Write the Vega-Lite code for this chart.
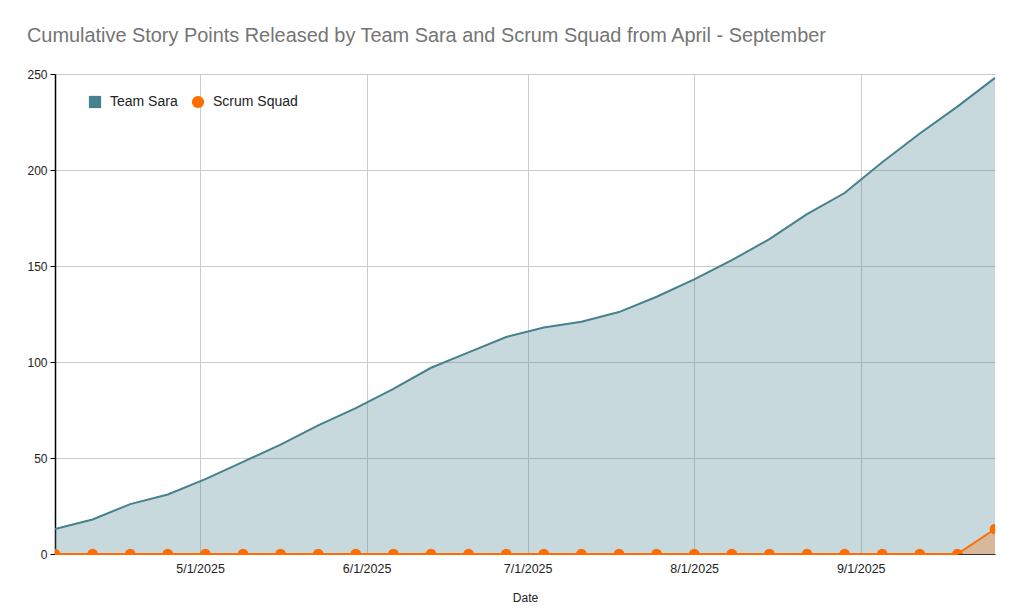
{
  "$schema": "https://vega.github.io/schema/vega-lite/v6.json",
  "width": 940,
  "height": 480,
  "autosize": {"type": "none"},
  "padding": {"left": 55, "top": 74, "right": 29, "bottom": 61},
  "background": "white",
  "title": {
    "text": "Cumulative Story Points Released by Team Sara and Scrum Squad from April - September",
    "anchor": "start",
    "offset": 6,
    "baseline": "alphabetic",
    "font": "Liberation Sans",
    "fontSize": 19.9,
    "fontWeight": "normal",
    "color": "#757575"
  },
  "data": {
    "values": [
      {"date": "2025/04/04", "team": "Team Sara", "points": 13},
      {"date": "2025/04/11", "team": "Team Sara", "points": 18},
      {"date": "2025/04/18", "team": "Team Sara", "points": 26},
      {"date": "2025/04/25", "team": "Team Sara", "points": 31},
      {"date": "2025/05/02", "team": "Team Sara", "points": 39},
      {"date": "2025/05/09", "team": "Team Sara", "points": 48},
      {"date": "2025/05/16", "team": "Team Sara", "points": 57},
      {"date": "2025/05/23", "team": "Team Sara", "points": 67},
      {"date": "2025/05/30", "team": "Team Sara", "points": 76},
      {"date": "2025/06/06", "team": "Team Sara", "points": 86},
      {"date": "2025/06/13", "team": "Team Sara", "points": 97},
      {"date": "2025/06/20", "team": "Team Sara", "points": 105},
      {"date": "2025/06/27", "team": "Team Sara", "points": 113},
      {"date": "2025/07/04", "team": "Team Sara", "points": 118},
      {"date": "2025/07/11", "team": "Team Sara", "points": 121},
      {"date": "2025/07/18", "team": "Team Sara", "points": 126},
      {"date": "2025/07/25", "team": "Team Sara", "points": 134},
      {"date": "2025/08/01", "team": "Team Sara", "points": 143},
      {"date": "2025/08/08", "team": "Team Sara", "points": 153},
      {"date": "2025/08/15", "team": "Team Sara", "points": 164},
      {"date": "2025/08/22", "team": "Team Sara", "points": 177},
      {"date": "2025/08/29", "team": "Team Sara", "points": 188},
      {"date": "2025/09/05", "team": "Team Sara", "points": 204},
      {"date": "2025/09/12", "team": "Team Sara", "points": 219},
      {"date": "2025/09/19", "team": "Team Sara", "points": 233},
      {"date": "2025/09/26", "team": "Team Sara", "points": 248},
      {"date": "2025/04/04", "team": "Scrum Squad", "points": 0},
      {"date": "2025/04/11", "team": "Scrum Squad", "points": 0},
      {"date": "2025/04/18", "team": "Scrum Squad", "points": 0},
      {"date": "2025/04/25", "team": "Scrum Squad", "points": 0},
      {"date": "2025/05/02", "team": "Scrum Squad", "points": 0},
      {"date": "2025/05/09", "team": "Scrum Squad", "points": 0},
      {"date": "2025/05/16", "team": "Scrum Squad", "points": 0},
      {"date": "2025/05/23", "team": "Scrum Squad", "points": 0},
      {"date": "2025/05/30", "team": "Scrum Squad", "points": 0},
      {"date": "2025/06/06", "team": "Scrum Squad", "points": 0},
      {"date": "2025/06/13", "team": "Scrum Squad", "points": 0},
      {"date": "2025/06/20", "team": "Scrum Squad", "points": 0},
      {"date": "2025/06/27", "team": "Scrum Squad", "points": 0},
      {"date": "2025/07/04", "team": "Scrum Squad", "points": 0},
      {"date": "2025/07/11", "team": "Scrum Squad", "points": 0},
      {"date": "2025/07/18", "team": "Scrum Squad", "points": 0},
      {"date": "2025/07/25", "team": "Scrum Squad", "points": 0},
      {"date": "2025/08/01", "team": "Scrum Squad", "points": 0},
      {"date": "2025/08/08", "team": "Scrum Squad", "points": 0},
      {"date": "2025/08/15", "team": "Scrum Squad", "points": 0},
      {"date": "2025/08/22", "team": "Scrum Squad", "points": 0},
      {"date": "2025/08/29", "team": "Scrum Squad", "points": 0},
      {"date": "2025/09/05", "team": "Scrum Squad", "points": 0},
      {"date": "2025/09/12", "team": "Scrum Squad", "points": 0},
      {"date": "2025/09/19", "team": "Scrum Squad", "points": 0},
      {"date": "2025/09/26", "team": "Scrum Squad", "points": 13}
    ]
  },
  "encoding": {
    "x": {
      "field": "date",
      "type": "temporal",
      "title": "Date",
      "scale": {
        "domain": [
          {"year": 2025, "month": 4, "date": 4},
          {"year": 2025, "month": 9, "date": 26}
        ]
      },
      "axis": {
        "format": "%-m/%-d/%Y",
        "tickCount": {"interval": "month", "step": 1},
        "ticks": false,
        "labelPadding": 8,
        "labelFontSize": 12.5,
        "titlePadding": 18,
        "grid": true,
        "gridColor": "#cccccc",
        "domainColor": "#333333"
      }
    },
    "y": {
      "field": "points",
      "type": "quantitative",
      "stack": null,
      "title": null,
      "scale": {"domain": [0, 250], "nice": false},
      "axis": {
        "values": [0, 50, 100, 150, 200, 250],
        "tickSize": 5,
        "tickColor": "#000000",
        "domainColor": "#000000",
        "domainWidth": 1.5,
        "labelPadding": 3,
        "gridColor": "#cccccc"
      }
    },
    "color": {
      "field": "team",
      "type": "nominal",
      "scale": {
        "domain": ["Team Sara", "Scrum Squad"],
        "range": ["#45818e", "#ff6d01"]
      },
      "legend": {
        "orient": "none",
        "legendX": 33,
        "legendY": 21,
        "direction": "horizontal",
        "title": null,
        "symbolOpacity": 1,
        "symbolSize": 150,
        "symbolStrokeWidth": 0,
        "labelFontSize": 14,
        "labelOffset": 8,
        "labelColor": "#222222",
        "columnPadding": 13,
        "encode": {
          "symbols": {
            "update": {
              "shape": {"signal": "datum.value === 'Team Sara' ? 'square' : 'circle'"},
              "fill": {"signal": "datum.value === 'Team Sara' ? '#45818e' : '#ff6d01'"},
              "opacity": {"value": 1}
            }
          }
        }
      }
    }
  },
  "layer": [
    {"mark": {"type": "area", "opacity": 0.3}},
    {"mark": {"type": "line", "strokeWidth": 2}},
    {
      "transform": [{"filter": "datum.team === 'Scrum Squad'"}],
      "mark": {"type": "circle", "size": 115, "opacity": 1, "clip": true}
    }
  ],
  "config": {
    "font": "Liberation Sans",
    "view": {"stroke": null},
    "axis": {
      "labelFont": "Liberation Sans",
      "labelFontSize": 12,
      "labelColor": "#222222",
      "titleFont": "Liberation Sans",
      "titleFontSize": 12,
      "titleFontWeight": "normal",
      "titleColor": "#222222"
    },
    "legend": {"labelFont": "Liberation Sans"}
  }
}
